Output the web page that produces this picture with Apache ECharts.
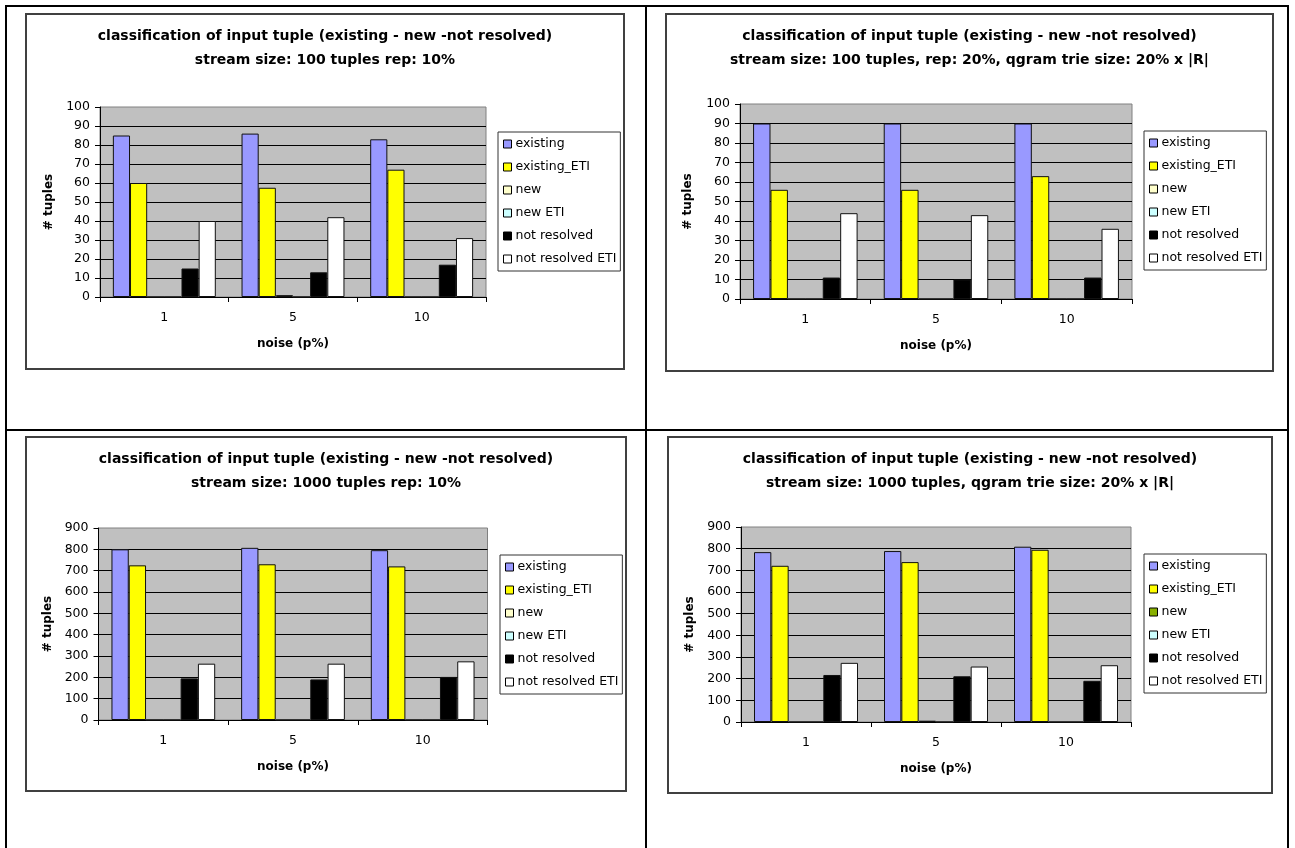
<!DOCTYPE html>
<html><head><meta charset="utf-8">
<script src="https://cdn.jsdelivr.net/npm/echarts@6/dist/echarts.min.js"></script>
<style>
html,body{margin:0;padding:0;background:#fff;width:1295px;height:848px;overflow:hidden;position:relative}
.ln{position:absolute;background:#000}
.box{position:absolute;box-sizing:border-box;border:2px solid #404040}
.ch{position:absolute}
</style></head><body>
<div class="ln" style="left:5px;top:5px;width:2px;height:843px"></div>
<div class="ln" style="left:5px;top:5px;width:1284px;height:2px"></div>
<div class="ln" style="left:1287px;top:5px;width:2px;height:843px"></div>
<div class="ln" style="left:645px;top:5px;width:2px;height:843px"></div>
<div class="ln" style="left:5px;top:429px;width:1284px;height:2px"></div>

<div class="box" style="left:25px;top:13px;width:600px;height:357px"></div>
<div class="box" style="left:665px;top:13px;width:609px;height:359px"></div>
<div class="box" style="left:25px;top:436px;width:602px;height:356px"></div>
<div class="box" style="left:667px;top:436px;width:606px;height:358px"></div>

<div id="c1" class="ch" style="left:25px;top:13px;width:600px;height:357px"></div>
<div id="c2" class="ch" style="left:665px;top:13px;width:609px;height:359px"></div>
<div id="c3" class="ch" style="left:25px;top:436px;width:602px;height:356px"></div>
<div id="c4" class="ch" style="left:667px;top:436px;width:606px;height:358px"></div>
<script>
// ---- data ----
const categories = ['1', '5', '10'];
const seriesNames = ['existing', 'existing_ETI', 'new', 'new ETI', 'not resolved', 'not resolved ETI'];
const titleLine1 = 'classification of input tuple (existing - new -not resolved)';
const titles2 = [
  'stream size: 100 tuples rep: 10%',
  'stream size: 100 tuples, rep: 20%, qgram trie size: 20% x |R|',
  'stream size: 1000 tuples rep: 10%',
  'stream size: 1000 tuples, qgram trie size: 20% x |R|'
];
const yMaxes = [100, 100, 900, 900];
const yIntervals = [10, 10, 100, 100];

const c1Existing = [85, 86, 83];
const c1ExistingETI = [60, 57.5, 67];
const c1New = [0, 1, 0];
const c1NewETI = [0, 0, 0];
const c1NotResolved = [15, 13, 17];
const c1NotResolvedETI = [40, 42, 31];

const c2Existing = [90, 90, 90];
const c2ExistingETI = [56, 56, 63];
const c2New = [0, 0, 0];
const c2NewETI = [0, 0, 0];
const c2NotResolved = [11, 10, 11];
const c2NotResolvedETI = [44, 43, 36];

const c3Existing = [800, 807, 796];
const c3ExistingETI = [725, 730, 720];
const c3New = [0, 0, 0];
const c3NewETI = [0, 0, 0];
const c3NotResolved = [195, 190, 202];
const c3NotResolvedETI = [264, 264, 275];

const c4Existing = [784, 789, 809];
const c4ExistingETI = [721, 738, 795];
const c4New = [0, 6, 0];
const c4NewETI = [0, 0, 0];
const c4NotResolved = [217, 211, 190];
const c4NotResolvedETI = [273, 256, 262];

const colorsA = ['#9999ff', '#ffff00', '#ffffcc', '#ccffff', '#000000', '#ffffff'];
const colorsB = ['#9999ff', '#ffff00', '#88b000', '#ccffff', '#000000', '#ffffff'];

// ---- layout (not data) ----
const layouts = [
  {grid: {left: 75, top: 94, width: 386, height: 190}, legend: {left: 473, top: 119}, yGap: 42, xGap: 41},
  {grid: {left: 75, top: 91, width: 392, height: 195}, legend: {left: 479, top: 118}, yGap: 46, xGap: 41},
  {grid: {left: 73.5, top: 92, width: 389, height: 192}, legend: {left: 475, top: 119}, yGap: 42, xGap: 41},
  {grid: {left: 74, top: 91, width: 390, height: 195}, legend: {left: 477, top: 118}, yGap: 42, xGap: 41}
];
const FONT = 'DejaVu Sans';

function build(id, idx, seriesData, colors) {
  const L = layouts[idx];
  const chart = echarts.init(document.getElementById(id), null, {renderer: 'canvas'});
  const series = seriesNames.map((n, i) => ({
    name: n, type: 'bar', data: seriesData[i],
    barGap: '0%', barCategoryGap: '20%',
    itemStyle: {color: colors[i], borderColor: '#111', borderWidth: 1},
    emphasis: {disabled: true}
  }));
  chart.setOption({
    animation: false,
    textStyle: {fontFamily: FONT},
    title: {
      text: titleLine1 + '\n' + titles2[idx], left: 'center', top: 11, padding: 0,
      textStyle: {fontFamily: FONT, fontSize: 14, fontWeight: 'bold', color: '#000', lineHeight: 24}
    },
    legend: {
      orient: 'vertical', left: L.legend.left, top: L.legend.top,
      padding: [5, 4, 5, 5], itemGap: 9, itemWidth: 8, itemHeight: 8, icon: 'rect',
      backgroundColor: '#fff', borderColor: '#333', borderWidth: 1, borderRadius: 0,
      itemStyle: {borderColor: '#000', borderWidth: 1},
      textStyle: {fontFamily: FONT, fontSize: 12.5, color: '#000', lineHeight: 14, padding: [0, 0, 0, -1]},
      selectedMode: false,
      data: seriesNames
    },
    grid: Object.assign({show: true, backgroundColor: '#c0c0c0', borderColor: '#808080', borderWidth: 1, containLabel: false}, L.grid),
    xAxis: {
      type: 'category', data: categories,
      axisLine: {show: true, lineStyle: {color: '#000', width: 1}},
      axisTick: {show: true, alignWithLabel: false, length: 5, interval: 0, lineStyle: {color: '#000'}},
      axisLabel: {fontFamily: FONT, fontSize: 12.5, color: '#000', margin: 14},
      splitLine: {show: false},
      name: 'noise (p%)', nameLocation: 'middle', nameGap: L.xGap,
      nameTextStyle: {fontFamily: FONT, fontSize: 12, fontWeight: 'bold', color: '#000'}
    },
    yAxis: {
      type: 'value', min: 0, max: yMaxes[idx], interval: yIntervals[idx],
      axisLine: {show: true, lineStyle: {color: '#000', width: 1}},
      axisTick: {show: true, inside: false, length: 5, lineStyle: {color: '#000'}},
      axisLabel: {fontFamily: FONT, fontSize: 12.5, color: '#000', margin: 10},
      splitLine: {show: true, showMinLine: false, showMaxLine: false, lineStyle: {color: '#000', width: 1}},
      name: '# tuples', nameLocation: 'middle', nameGap: L.yGap, nameRotate: 90,
      nameTextStyle: {fontFamily: FONT, fontSize: 12, fontWeight: 'bold', color: '#000'}
    },
    series: series
  });
}

build('c1', 0, [c1Existing, c1ExistingETI, c1New, c1NewETI, c1NotResolved, c1NotResolvedETI], colorsA);
build('c2', 1, [c2Existing, c2ExistingETI, c2New, c2NewETI, c2NotResolved, c2NotResolvedETI], colorsA);
build('c3', 2, [c3Existing, c3ExistingETI, c3New, c3NewETI, c3NotResolved, c3NotResolvedETI], colorsA);
build('c4', 3, [c4Existing, c4ExistingETI, c4New, c4NewETI, c4NotResolved, c4NotResolvedETI], colorsB);
</script>
</body></html>
